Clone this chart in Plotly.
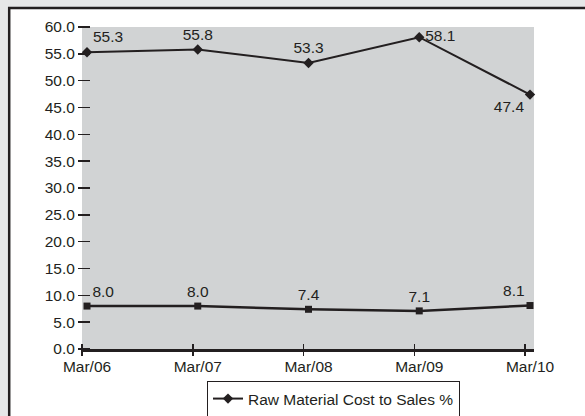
import plotly.graph_objects as go

categories = ["Mar/06", "Mar/07", "Mar/08", "Mar/09", "Mar/10"]
raw_material_pct = [55.3, 55.8, 53.3, 58.1, 47.4]
second_series = [8.0, 8.0, 7.4, 7.1, 8.1]
y_ticks = [0, 5, 10, 15, 20, 25, 30, 35, 40, 45, 50, 55, 60]
series_name = "Raw Material Cost to Sales %"

W, H = 585, 416
L, R, T, B = 82, 51, 27, 67
PW, PH = W - L - R, H - T - B
INK = "#231f20"
FONT = "Liberation Sans, Arial, sans-serif"
FS = 15.5

idx = list(range(len(categories)))
step = (530 - 87) / 4.0
x_lo = -5 / step
x_hi = (len(categories) - 1) + 4 / step


def px(xp):
    return (xp - L) / PW


def py(yp):
    return (H - B - yp) / PH


top_pos = ["top right", "top center", "top center", "middle right", "bottom left"]
bot_pos = ["top right", "top center", "top center", "top center", "top left"]

fig = go.Figure()
fig.add_trace(go.Scatter(
    x=idx, y=raw_material_pct, mode="lines+markers+text",
    name=series_name,
    text=[f"{v:.1f}" for v in raw_material_pct], textposition=top_pos,
    textfont=dict(family=FONT, size=FS, color=INK),
    line=dict(color=INK, width=2),
    marker=dict(symbol="diamond", size=8, color=INK),
    cliponaxis=False, showlegend=True,
))
fig.add_trace(go.Scatter(
    x=idx, y=second_series, mode="lines+markers+text",
    name="",
    text=[f"{v:.1f}" for v in second_series], textposition=bot_pos,
    textfont=dict(family=FONT, size=FS, color=INK),
    line=dict(color=INK, width=2.5),
    marker=dict(symbol="square", size=7, color=INK),
    cliponaxis=False, showlegend=False,
))
# invisible trace to activate the tick-only overlay axis
fig.add_trace(go.Scatter(x=[x_lo], y=[0], xaxis="x2", mode="markers",
                         marker=dict(opacity=0), showlegend=False, hoverinfo="skip"))

gray_out = "#e6e7e8"
shapes = [
    dict(type="rect", xref="paper", yref="paper", x0=px(-20), x1=px(620), y0=py(-20), y1=py(8),
         fillcolor=gray_out, line=dict(width=0)),
    dict(type="rect", xref="paper", yref="paper", x0=px(-20), x1=px(8.5), y0=py(-20), y1=py(440),
         fillcolor=gray_out, line=dict(width=0)),
    dict(type="line", xref="paper", yref="paper", x0=px(8), x1=px(620), y0=py(8), y1=py(8),
         line=dict(color=INK, width=2.5)),
    dict(type="line", xref="paper", yref="paper", x0=px(9.2), x1=px(9.2), y0=py(7), y1=py(440),
         line=dict(color=INK, width=2.5)),
]

fig.update_layout(
    width=W, height=H,
    margin=dict(l=L, r=R, t=T, b=B, autoexpand=False),
    paper_bgcolor="white", plot_bgcolor="#d1d3d4",
    font=dict(family=FONT, size=FS, color=INK),
    shapes=shapes,
    xaxis=dict(range=[x_lo, x_hi], tickvals=idx, ticktext=categories,
               ticks="outside", ticklen=2, tickcolor="rgba(0,0,0,0)",
               showline=True, linecolor=INK, linewidth=2.5,
               showgrid=False, zeroline=False, fixedrange=True, automargin=False),
    xaxis2=dict(range=[x_lo, x_hi], overlaying="x", anchor="free", position=6 / PH,
                tickvals=[i + x_lo for i in idx], showticklabels=False,
                ticks="outside", ticklen=12, tickwidth=1.5, tickcolor=INK,
                showline=False, showgrid=False, zeroline=False, side="bottom", automargin=False),
    yaxis=dict(range=[0, 60], tickvals=y_ticks, tickformat=".1f",
               anchor="free", position=8 / PW,
               ticks="outside", ticklen=12, tickwidth=1.5, tickcolor=INK,
               showline=False, showgrid=False, zeroline=False, automargin=False),
    legend=dict(x=px(207), y=py(381), xanchor="left", yanchor="top",
                bordercolor=INK, borderwidth=1, bgcolor="white",
                font=dict(family=FONT, size=FS, color=INK),
                itemwidth=30, tracegroupgap=0),
    showlegend=True,
)

fig.write_html("out.html",
               config={"displayModeBar": False, "staticPlot": True},
               post_script="document.body.style.margin='0';document.body.style.overflow='hidden';")
